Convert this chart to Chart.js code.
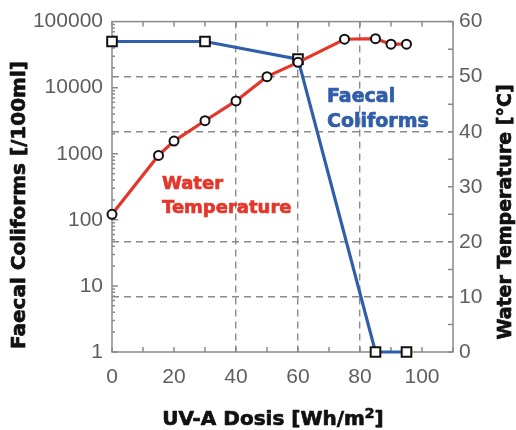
<!DOCTYPE html>
<html><head><meta charset="utf-8">
<script src="https://cdn.jsdelivr.net/npm/chart.js@4/dist/chart.umd.min.js"></script>
<style>html,body{margin:0;padding:0;background:#fff}#wrap{width:516px;height:430px;position:relative}</style>
</head><body><div id="wrap"><canvas id="c"></canvas></div>
<script>
// ---- data ----
const doseColiforms = [0, 30, 60, 85, 95];
const faecalColiforms = [50000, 50000, 27000, 1, 1];
const doseTemperature = [0, 15, 20, 30, 40, 50, 60, 75, 85, 90, 95];
const waterTemperature = [25, 35.7, 38.3, 42, 45.6, 50, 52.6, 56.8, 56.9, 55.9, 55.9];
const xTicks = [0, 20, 40, 60, 80, 100];
const yLeftTicks = [1, 10, 100, 1000, 10000, 100000];
const yRightTicks = [0, 10, 20, 30, 40, 50, 60];
const xGridValues = [40, 60, 80];
const yRightGridValues = [10, 20, 40, 50];

const AXIS_GRAY = '#8a8a8a';
const LABEL_GRAY = '#5e5e5e';
const RED = '#e4372c';
const BLUE = '#315ea9';
const tickFont = {family: "'Liberation Sans', Arial, sans-serif", size: 21};

const framePlugin = {
  id: 'frame',
  beforeDatasetsDraw(chart) {
    const {ctx, chartArea: a, scales} = chart;
    ctx.save();
    ctx.strokeStyle = AXIS_GRAY;
    ctx.lineWidth = 1.5;
    ctx.strokeRect(a.left, a.top, a.right - a.left, a.bottom - a.top);
    ctx.beginPath();
    const x = scales.x;
    for (let v = x.min; v <= x.max; v += 10) {
      const px = x.getPixelForValue(v);
      ctx.moveTo(px, a.bottom); ctx.lineTo(px, a.bottom - 5);
      ctx.moveTo(px, a.top); ctx.lineTo(px, a.top + 5);
    }
    const y = scales.y;
    for (let d = y.min; d < y.max; d *= 10) {
      for (let m = 1; m < 10; m++) {
        const py = y.getPixelForValue(d * m);
        const len = m === 1 ? 6 : 3;
        ctx.moveTo(a.left, py); ctx.lineTo(a.left + len, py);
      }
    }
    const y2 = scales.y2;
    for (let v = y2.min; v <= y2.max; v += 5) {
      const py = y2.getPixelForValue(v);
      ctx.moveTo(a.right, py); ctx.lineTo(a.right - 5, py);
    }
    ctx.stroke();
    ctx.restore();
  }
};

function heavyText(ctx, txt, x, y) {
  ctx.fillText(txt, x, y);
  ctx.strokeText(txt, x, y);
}

const textPlugin = {
  id: 'texts',
  afterDraw(chart) {
    const {ctx} = chart;
    ctx.save();
    ctx.fillStyle = '#111';
    ctx.strokeStyle = '#111';
    ctx.lineWidth = 0.7;
    ctx.lineJoin = 'round';
    ctx.textAlign = 'center';
    ctx.textBaseline = 'middle';
    // left title
    ctx.save();
    ctx.translate(20, 205);
    ctx.rotate(-Math.PI / 2);
    ctx.font = "bold 20px 'DejaVu Sans', sans-serif";
    heavyText(ctx, 'Faecal Coliforms [/100ml]', 0, 0);
    ctx.restore();
    // right title
    ctx.save();
    ctx.translate(506, 212);
    ctx.rotate(-Math.PI / 2);
    ctx.font = "bold 19px 'DejaVu Sans', sans-serif";
    heavyText(ctx, 'Water Temperature [\u00B0C]', 0, 0);
    ctx.restore();
    // bottom title with superscript
    ctx.textAlign = 'left';
    ctx.textBaseline = 'alphabetic';
    const big = "bold 20px 'DejaVu Sans', sans-serif";
    const small = "bold 14px 'DejaVu Sans', sans-serif";
    const p1 = 'UV-A Dosis [Wh/m', p2 = '2', p3 = ']';
    ctx.font = big; const w1 = ctx.measureText(p1).width, w3 = ctx.measureText(p3).width;
    ctx.font = small; const w2 = ctx.measureText(p2).width;
    let sx = 273 - (w1 + w2 + w3) / 2;
    const by = 425;
    ctx.font = big; heavyText(ctx, p1, sx, by); sx += w1;
    ctx.font = small; heavyText(ctx, p2, sx, by - 7); sx += w2;
    ctx.font = big; heavyText(ctx, p3, sx, by);
    // annotations
    ctx.fillStyle = RED; ctx.strokeStyle = RED;
    ctx.font = "bold 18px 'DejaVu Sans', sans-serif";
    heavyText(ctx, 'Water', 162, 189);
    heavyText(ctx, 'Temperature', 162, 213);
    ctx.fillStyle = BLUE; ctx.strokeStyle = BLUE;
    ctx.font = "bold 19px 'DejaVu Sans', sans-serif";
    heavyText(ctx, 'Faecal', 327, 102);
    heavyText(ctx, 'Coliforms', 327, 127);
    ctx.restore();
  }
};

new Chart(document.getElementById('c'), {
  type: 'line',
  data: {
    datasets: [
      {
        label: 'Water Temperature',
        data: doseTemperature.map((x, i) => ({x: x, y: waterTemperature[i]})),
        yAxisID: 'y2',
        borderColor: RED,
        borderWidth: 3.2,
        pointStyle: 'circle',
        pointRadius: 4.5,
        pointBorderWidth: 2,
        pointBorderColor: '#111',
        pointBackgroundColor: '#fff',
        tension: 0,
        clip: false,
        order: 0
      },
      {
        label: 'Faecal Coliforms',
        data: doseColiforms.map((x, i) => ({x: x, y: faecalColiforms[i]})),
        yAxisID: 'y',
        borderColor: BLUE,
        borderWidth: 3.2,
        pointStyle: 'rect',
        pointRadius: 6.8,
        pointBorderWidth: 2,
        pointBorderColor: '#111',
        pointBackgroundColor: '#fff',
        tension: 0,
        clip: false,
        order: 1
      }
    ]
  },
  options: {
    responsive: true,
    maintainAspectRatio: false,
    animation: false,
    devicePixelRatio: 1,
    layout: {padding: {top: 18, left: 0, right: 0, bottom: 0}},
    plugins: {legend: {display: false}, tooltip: {enabled: false}},
    scales: {
      x: {
        type: 'linear', min: 0, max: 110,
        afterBuildTicks: s => { s.ticks = xTicks.map(v => ({value: v})); },
        afterFit: s => { s.height = 78; },
        grid: {
          drawTicks: false,
          lineWidth: 1.4,
          color: c => (c.tick && xGridValues.includes(c.tick.value)) ? AXIS_GRAY : 'rgba(0,0,0,0)'
        },
        border: {display: false, dash: [7, 5]},
        ticks: {padding: 13, color: LABEL_GRAY, font: tickFont, maxRotation: 0, autoSkip: false}
      },
      y: {
        type: 'logarithmic', position: 'left', min: 1, max: 100000,
        afterBuildTicks: s => { s.ticks = yLeftTicks.map(v => ({value: v})); },
        afterFit: s => { s.width = 112; },
        grid: {display: false, drawTicks: false},
        border: {display: false},
        ticks: {padding: 9, color: LABEL_GRAY, font: tickFont, autoSkip: false, callback: v => String(v)}
      },
      y2: {
        type: 'linear', position: 'right', min: 0, max: 60,
        afterBuildTicks: s => { s.ticks = yRightTicks.map(v => ({value: v})); },
        afterFit: s => { s.width = 63; },
        grid: {
          drawTicks: false,
          lineWidth: 1.4,
          color: c => (c.tick && yRightGridValues.includes(c.tick.value)) ? AXIS_GRAY : 'rgba(0,0,0,0)'
        },
        border: {display: false, dash: [7, 5]},
        ticks: {padding: 6, color: LABEL_GRAY, font: tickFont, autoSkip: false}
      }
    }
  },
  plugins: [framePlugin, textPlugin]
});
</script>
</body></html>
